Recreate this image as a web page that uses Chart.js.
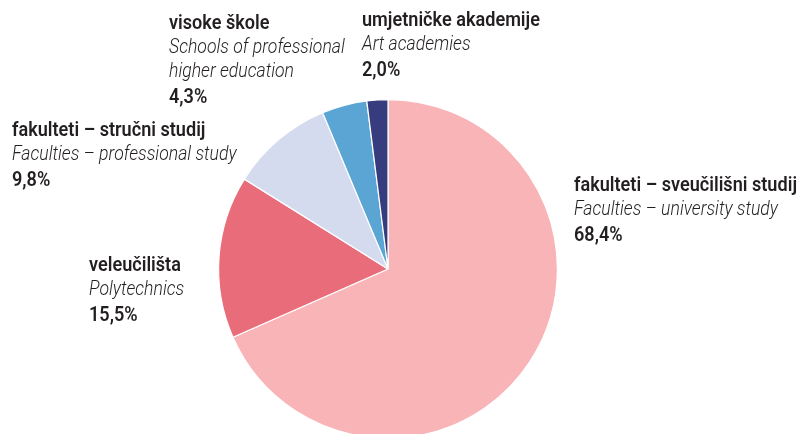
<!DOCTYPE html>
<html>
<head>
<meta charset="utf-8">
<script src="https://cdn.jsdelivr.net/npm/chart.js@4"></script>
<style>
html,body{margin:0;padding:0;background:#fff;overflow:hidden;}
#wrap{position:relative;width:798px;height:434px;overflow:hidden;}
#box{position:absolute;left:0;top:0;width:798px;height:478px;}
</style>
</head>
<body>
<div id="wrap"><div id="box"><canvas id="c"></canvas></div></div>
<script>
const categoriesHr = ["fakulteti – sveučilišni studij","veleučilišta","fakulteti – stručni studij","visoke škole","umjetničke akademije"];
const categoriesEn = [["Faculties – university study"],["Polytechnics"],["Faculties – professional study"],["Schools of professional","higher education"],["Art academies"]];
const values = [68.4, 15.5, 9.8, 4.3, 2.0];
const valueLabels = ["68,4%","15,5%","9,8%","4,3%","2,0%"];
const colors = ["#F8B4B7","#E86C79","#D4DBEE","#5AA5D3","#363C7E"];
const labelAnchors = [[574,191],[89,271],[12,136],[169,29],[362,26]];

const FONT = 'Roboto,"Liberation Sans",sans-serif';
const BOLD = '600 20px ' + FONT;
const ITAL = 'italic 300 20px ' + FONT;
const LH = 24;
const TARGET_BOLD_W = 223; // "fakulteti – sveučilišni studij" in the reference
const TARGET_ITAL_W = 204; // "Faculties – university study" in the reference

const labelPlugin = {
  id:'labels',
  afterDraw(chart){
    const ctx = chart.ctx;
    ctx.save();
    ctx.font = BOLD;
    const sxB = TARGET_BOLD_W / ctx.measureText(categoriesHr[0]).width;
    ctx.font = ITAL;
    const sxI = TARGET_ITAL_W / ctx.measureText(categoriesEn[0][0]).width;
    ctx.fillStyle = '#231F20';
    ctx.textBaseline = 'alphabetic';
    ctx.textAlign = 'left';
    const draw = (t,x,y,sx)=>{ ctx.save(); ctx.translate(x,y); ctx.scale(sx,1); ctx.fillText(t,0,0); ctx.restore(); };
    categoriesHr.forEach((hr,i)=>{
      const [x,y0] = labelAnchors[i];
      let y = y0;
      ctx.font = BOLD;
      draw(hr, x, y, sxB);
      ctx.font = ITAL;
      categoriesEn[i].forEach(t=>{ y += LH; draw(t, x, y, sxI); });
      y += LH + 2;
      ctx.font = BOLD;
      draw(valueLabels[i], x, y, sxB);
    });
    ctx.restore();
  }
};

new Chart(document.getElementById('c'), {
  type:'pie',
  data:{ labels: categoriesHr, datasets:[{ data: values, backgroundColor: colors, borderColor:'#ffffff', borderWidth:1.2 }]},
  options:{
    responsive:true, maintainAspectRatio:false, animation:false,
    layout:{ padding:{ left:218, right:240, top:99, bottom:39 } },
    plugins:{ legend:{display:false}, tooltip:{enabled:false} }
  },
  plugins:[labelPlugin]
});
</script>
</body>
</html>
